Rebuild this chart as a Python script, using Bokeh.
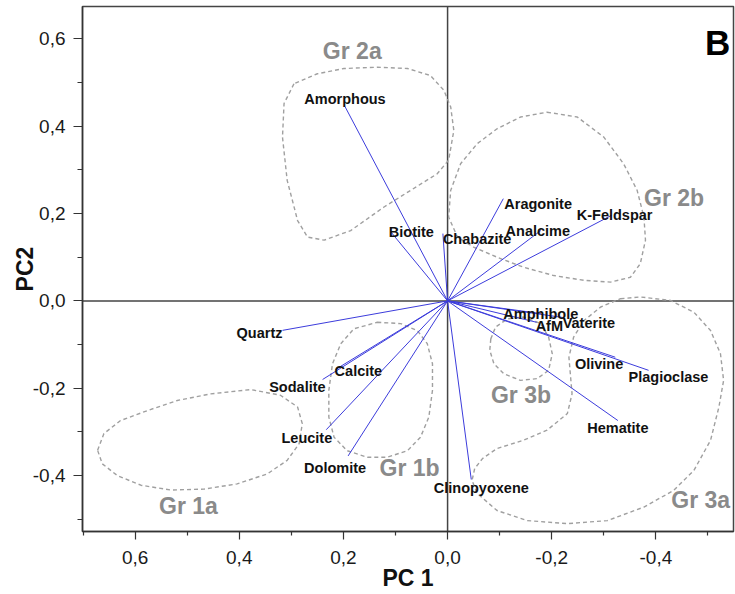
from bokeh.plotting import figure
from bokeh.models import Range1d, FixedTicker, CustomJSTickFormatter, Span
from bokeh.core.properties import value
from bokeh.embed import file_html
from bokeh.resources import INLINE

# ---------------- data ----------------
minerals = ["Amorphous", "Biotite", "Chabazite", "Aragonite", "Analcime", "K-Feldspar",
            "Amphibole", "AfM", "Vaterite", "Olivine", "Plagioclase", "Hematite",
            "Clinopyoxene", "Dolomite", "Leucite", "Sodalite", "Calcite", "Quartz"]
pc1 = [0.197, 0.109, 0.009, -0.107, -0.179, -0.315,
       -0.179, -0.171, -0.221, -0.322, -0.386, -0.327,
       -0.0455, 0.191, 0.233, 0.240, 0.215, 0.317]
pc2 = [0.445, 0.158, 0.154, 0.234, 0.161, 0.196,
       -0.029, -0.049, -0.038, -0.129, -0.159, -0.274,
       -0.409, -0.355, -0.295, -0.180, -0.157, -0.0675]

group_names = ["Gr 1a", "Gr 1b", "Gr 2a", "Gr 2b", "Gr 3a", "Gr 3b"]
group_label_x = [0.4975, 0.073, 0.183, -0.435, -0.486, -0.141]
group_label_y = [-0.469, -0.382, 0.573, 0.235, -0.457, -0.215]

gr1a_x = [0.672, 0.660, 0.628, 0.576, 0.519, 0.455, 0.378, 0.321, 0.288, 0.279,
          0.285, 0.308, 0.346, 0.404, 0.468, 0.532, 0.589, 0.634, 0.663]
gr1a_y = [-0.342, -0.304, -0.274, -0.251, -0.228, -0.213, -0.203, -0.216, -0.243, -0.281,
          -0.327, -0.365, -0.396, -0.419, -0.431, -0.433, -0.422, -0.400, -0.373]

gr1b_x = [0.135, 0.090, 0.058, 0.039, 0.029, 0.029, 0.036, 0.052, 0.077,
          0.116, 0.154, 0.193, 0.218, 0.228, 0.228, 0.221, 0.205, 0.180]
gr1b_y = [-0.049, -0.052, -0.068, -0.098, -0.144, -0.205, -0.266, -0.312, -0.343,
          -0.358, -0.358, -0.343, -0.312, -0.266, -0.205, -0.144, -0.098, -0.064]

gr2a_x = [0.295, 0.314, 0.317, 0.308, 0.288, 0.269, 0.237, 0.186, 0.122, 0.071,
          0.020, -0.002, -0.012, -0.006, 0.007, 0.033, 0.077, 0.135, 0.199, 0.250]
gr2a_y = [0.497, 0.452, 0.375, 0.276, 0.184, 0.146, 0.139, 0.161, 0.215, 0.253,
          0.291, 0.322, 0.390, 0.444, 0.482, 0.516, 0.532, 0.535, 0.532, 0.520]

gr2b_x = [-0.191, -0.249, -0.300, -0.338, -0.364, -0.377, -0.380, -0.370, -0.351, -0.313, -0.262,
          -0.204, -0.146, -0.095, -0.050, -0.019, -0.002, -0.006, -0.025, -0.057, -0.095, -0.140]
gr2b_y = [0.432, 0.421, 0.375, 0.314, 0.253, 0.192, 0.139, 0.085, 0.054, 0.043, 0.047,
          0.058, 0.077, 0.100, 0.123, 0.146, 0.192, 0.253, 0.314, 0.360, 0.394, 0.421]

gr3a_x = [-0.332, -0.370, -0.428, -0.473, -0.505, -0.524, -0.530, -0.521, -0.505, -0.473,
          -0.434, -0.377, -0.307, -0.230, -0.153, -0.095, -0.057, -0.047, -0.052, -0.067,
          -0.095, -0.146, -0.191, -0.230, -0.239, -0.236, -0.233, -0.242, -0.262, -0.294]
gr3a_y = [0.005, 0.009, 0.001, -0.026, -0.068, -0.121, -0.182, -0.243, -0.319, -0.388,
          -0.434, -0.472, -0.503, -0.510, -0.503, -0.480, -0.441, -0.411, -0.384, -0.361,
          -0.338, -0.319, -0.296, -0.258, -0.213, -0.171, -0.129, -0.083, -0.045, -0.014]

gr3b_x = [-0.083, -0.092, -0.115, -0.146, -0.179, -0.194, -0.201, -0.194, -0.172,
          -0.140, -0.108, -0.089, -0.081]
gr3b_y = [-0.087, -0.060, -0.041, -0.037, -0.052, -0.083, -0.121, -0.159, -0.178,
          -0.182, -0.167, -0.144, -0.113]

x_major = [0.6, 0.4, 0.2, 0.0, -0.2, -0.4]
x_minor = [0.7, 0.5, 0.3, 0.1, -0.1, -0.3, -0.5]
y_major = [0.6, 0.4, 0.2, 0.0, -0.2, -0.4]
y_minor = [0.5, 0.3, 0.1, -0.1, -0.3, -0.5]

# ---------------- label layout (align, baseline, dx px, dy px) ----------------
label_layout = {
    "Amorphous": ("center", "bottom", 0, 0),
    "Biotite": ("left", "alphabetic", -2, 0),
    "Chabazite": ("left", "alphabetic", 0, 5),
    "Aragonite": ("left", "alphabetic", 1, 5),
    "Analcime": ("center", "alphabetic", -3, 0),
    "K-Feldspar": ("center", "alphabetic", 3, 0),
    "Quartz": ("right", "alphabetic", 0, 3),
    "Calcite": ("left", "alphabetic", -1, 2),
    "Sodalite": ("right", "alphabetic", 3, 7),
    "Leucite": ("right", "alphabetic", 6, 8),
    "Dolomite": ("center", "alphabetic", -13, 12),
    "Clinopyoxene": ("center", "alphabetic", 10, 8),
    "Hematite": ("center", "alphabetic", 0, 7),
    "Amphibole": ("center", "alphabetic", 0, 0),
    "AfM": ("left", "alphabetic", -1, 4),
    "Vaterite": ("left", "alphabetic", 0, 6),
    "Olivine": ("right", "alphabetic", 8, 7),
    "Plagioclase": ("left", "alphabetic", -20, 7),
}

FONT = value("Liberation Sans")

p = figure(width=735, height=594,
           x_range=Range1d(0.701, -0.549), y_range=Range1d(-0.528, 0.674),
           output_backend="svg", toolbar_location=None,
           min_border_left=82, min_border_right=2, min_border_top=6, min_border_bottom=63)
p.background_fill_color = "white"
p.border_fill_color = "white"
p.outline_line_color = "#444444"
p.outline_line_width = 1.5
p.xgrid.visible = False
p.ygrid.visible = False

fmt = CustomJSTickFormatter(code="return tick.toFixed(1).replace('.', ',');")

for ax, major, minor, tout, mout in ((p.xaxis[0], x_major, x_minor, 8, 4),
                                     (p.yaxis[0], y_major, y_minor, 9, 5)):
    ax.ticker = FixedTicker(ticks=major, minor_ticks=minor)
    ax.formatter = fmt
    ax.major_tick_out = tout
    ax.major_tick_in = 0
    ax.minor_tick_out = mout
    ax.minor_tick_in = 0
    ax.axis_line_color = "#333333"
    ax.axis_line_width = 1.5
    ax.major_tick_line_color = "#333333"
    ax.minor_tick_line_color = "#333333"
    ax.major_tick_line_width = 1.2
    ax.minor_tick_line_width = 1.2
    ax.major_label_text_font = "Liberation Sans"
    ax.major_label_text_font_size = "19px"
    ax.major_label_text_color = "#1a1a1a"
    ax.axis_label_text_font = "Liberation Sans"
    ax.axis_label_text_font_style = "bold"
    ax.axis_label_text_font_size = "23px"
    ax.axis_label_text_color = "#111111"

p.xaxis.axis_label = "PC 1"
p.yaxis.axis_label = "PC2"
p.xaxis.major_label_standoff = 11
p.xaxis.axis_label_standoff = -2
p.yaxis.major_label_standoff = 8
p.yaxis.axis_label_standoff = -8

# zero lines
p.add_layout(Span(location=0, dimension="height", line_color="#444444", line_width=1.5, level="underlay"))
p.add_layout(Span(location=0, dimension="width", line_color="#444444", line_width=1.5, level="underlay"))

# group outlines
p.patches(xs=[gr1a_x, gr1b_x, gr2a_x, gr2b_x, gr3a_x, gr3b_x],
          ys=[gr1a_y, gr1b_y, gr2a_y, gr2b_y, gr3a_y, gr3b_y],
          fill_color=None, line_color="#a0a0a0", line_width=1.4,
          line_dash="4 3", line_join="round")

p.text(x=group_label_x, y=group_label_y, text=group_names,
       text_font=FONT, text_font_style="bold", text_font_size="23px",
       text_color="#8a8a8a", text_align="center", text_baseline="middle")

# loading vectors
p.segment(x0=[0] * len(pc1), y0=[0] * len(pc2), x1=pc1, y1=pc2,
          line_color="#3c3cdc", line_width=1)

for name, xv, yv in zip(minerals, pc1, pc2):
    al, bl, dx, dy = label_layout[name]
    p.text(x=[xv], y=[yv], text=[name], text_font=FONT, text_font_style="bold",
           text_font_size="14.5px", text_color="#111111", text_align=al,
           text_baseline=bl, x_offset=dx, y_offset=dy)

# panel letter
p.text(x=[-0.543], y=[0.592], text=["B"], text_font=FONT, text_font_style="bold",
       text_font_size="35px", text_color="#000000", text_align="right",
       text_baseline="alphabetic")

open("out.html", "w").write(file_html(p, INLINE))
